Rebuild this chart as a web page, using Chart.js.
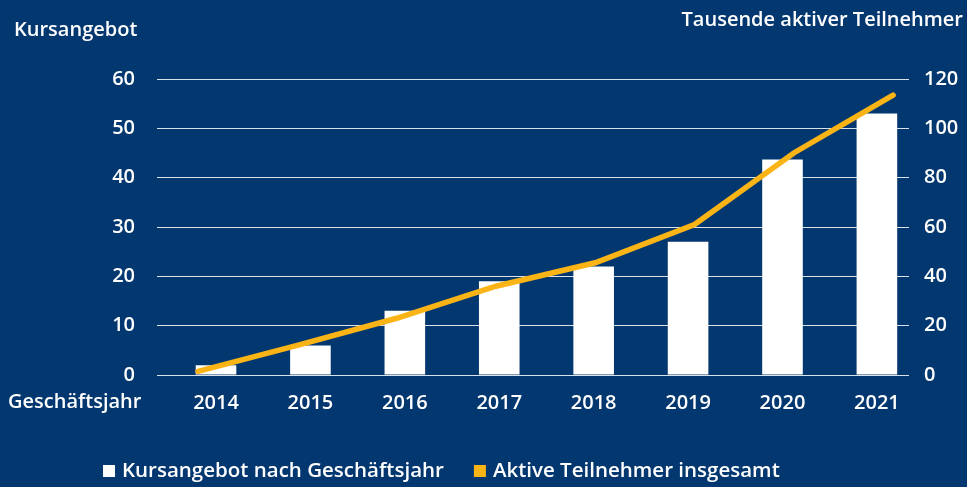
<!DOCTYPE html>
<html>
<head>
<meta charset="utf-8">
<script src="https://cdn.jsdelivr.net/npm/chart.js@4"></script>
<style>
  html, body { margin: 0; padding: 0; background: #03376f; }
  #wrap { width: 967px; height: 487px; }
</style>
</head>
<body>
<div id="wrap"><canvas id="chart"></canvas></div>
<script>
const years = [2014, 2015, 2016, 2017, 2018, 2019, 2020, 2021];
const kursangebot = [2, 6, 13, 19, 22, 27, 43.7, 53];
const teilnehmer = [1.5, 12, 23, 36, 45.5, 61, 90, 113.5];
const leftTicks = [0, 10, 20, 30, 40, 50, 60];
const rightTicks = [0, 20, 40, 60, 80, 100, 120];

const FONT = '"Open Sans"';
const WHITE = '#ffffff';
const GOLD = '#fbb416';

// axis titles and legend drawn by hand so they sit where the original has them
const extraText = {
    id: 'extraText',
    afterDraw(chart) {
        const ctx = chart.ctx;
        ctx.save();
        ctx.fillStyle = WHITE;
        ctx.font = `600 20px ${FONT}`;
        ctx.textBaseline = 'middle';
        ctx.textAlign = 'left';
        ctx.fillText('Kursangebot', 14, 30);
        ctx.fillText('Geschäftsjahr', 8, 402);
        ctx.textAlign = 'right';
        ctx.fillText('Tausende aktiver Teilnehmer', 963, 20);

        // legend
        ctx.textAlign = 'left';
        ctx.font = `600 20.5px ${FONT}`;
        const y = 471;
        let x = 103;
        chart.data.datasets.forEach(ds => {
            ctx.fillStyle = ds.legendColor;
            ctx.fillRect(x, y - 6, 12, 12);
            ctx.fillStyle = WHITE;
            ctx.fillText(ds.label, x + 19, y);
            x += 19 + ctx.measureText(ds.label).width + 30;
        });
        ctx.restore();
    }
};

const tickFont = { family: FONT, size: 20, weight: '600' };

new Chart(document.getElementById('chart'), {
    data: {
        labels: years,
        datasets: [
            {
                type: 'bar',
                label: 'Kursangebot nach Geschäftsjahr',
                data: kursangebot,
                xAxisID: 'x',
                yAxisID: 'y',
                backgroundColor: WHITE,
                legendColor: WHITE,
                grouped: false,
                barPercentage: 0.43,
                categoryPercentage: 1,
                order: 1
            },
            {
                type: 'line',
                label: 'Aktive Teilnehmer insgesamt',
                data: teilnehmer,
                xAxisID: 'x2',
                yAxisID: 'y1',
                borderColor: GOLD,
                legendColor: GOLD,
                borderWidth: 5.5,
                borderCapStyle: 'round',
                tension: 0,
                pointRadius: 0,
                order: 0
            }
        ]
    },
    options: {
        responsive: true,
        maintainAspectRatio: false,
        animation: false,
        layout: { padding: { top: 79, bottom: 56, left: 0, right: 0 } },
        plugins: { legend: { display: false }, tooltip: { enabled: false } },
        scales: {
            x: {
                type: 'linear',
                offset: false,
                bounds: 'data',
                min: 2013.375,
                max: 2021.34,
                afterBuildTicks: s => { s.ticks = years.map(v => ({ value: v })); },
                grid: { display: false, drawTicks: false, offset: false },
                border: { display: false },
                ticks: { color: WHITE, font: tickFont, padding: 16, callback: v => String(v) }
            },
            // the line in the original is spread a little wider than the bars
            x2: {
                type: 'linear',
                display: false,
                offset: false,
                bounds: 'data',
                min: 2013.587,
                max: 2021.16
            },
            y: {
                position: 'left',
                min: 0, max: 60,
                afterBuildTicks: s => { s.ticks = leftTicks.map(v => ({ value: v })); },
                afterFit: s => { s.width = 157; },
                grid: { color: 'rgba(255,255,255,0.85)', lineWidth: 1, drawTicks: false },
                border: { display: false },
                ticks: { color: WHITE, font: tickFont, padding: 22 }
            },
            y1: {
                position: 'right',
                min: 0, max: 120,
                afterBuildTicks: s => { s.ticks = rightTicks.map(v => ({ value: v })); },
                afterFit: s => { s.width = 58; },
                grid: { display: false, drawTicks: false },
                border: { display: false },
                ticks: { color: WHITE, font: tickFont, padding: 15 }
            }
        }
    },
    plugins: [extraText]
});
</script>
</body>
</html>
